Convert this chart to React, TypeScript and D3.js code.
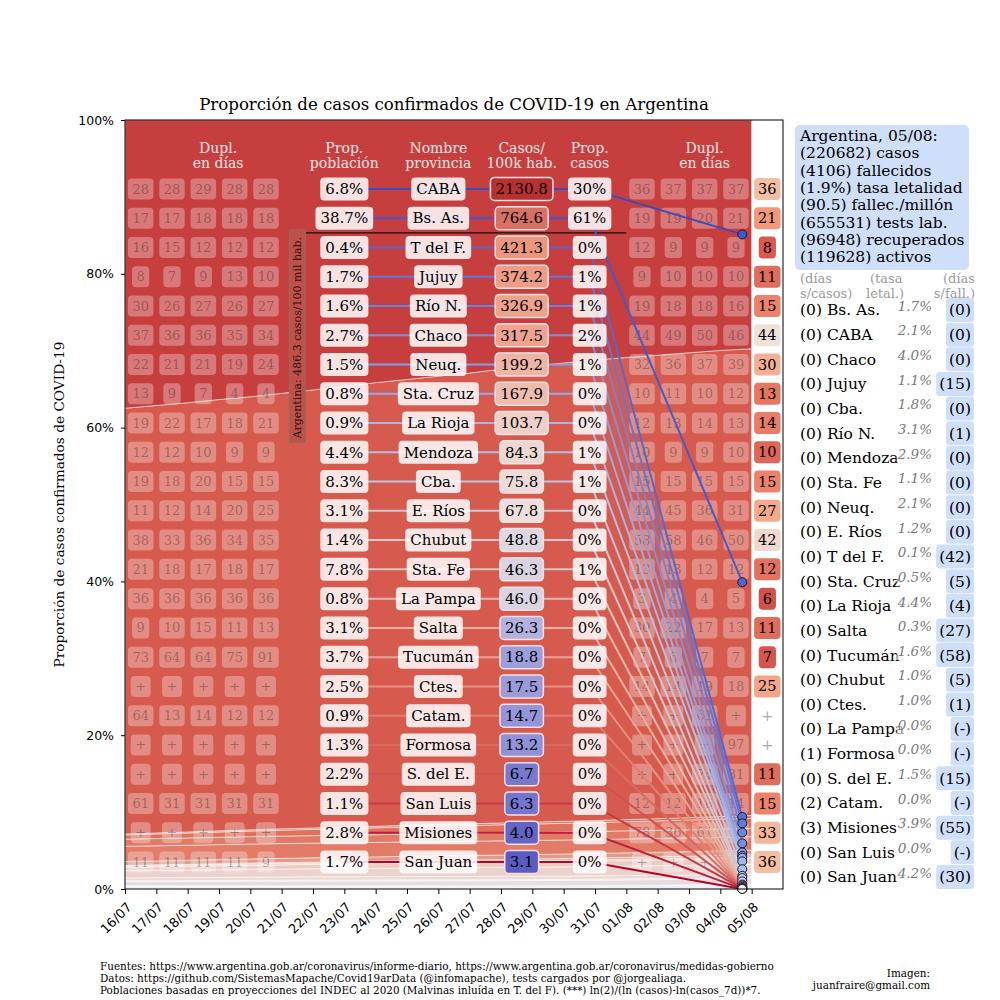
import React, { useEffect, useRef } from "react";
import * as d3 from "d3";

const dates = [
  "16/07", "17/07", "18/07", "19/07", "20/07", "21/07", "22/07", "23/07", "24/07", "25/07", "26/07",
  "27/07", "28/07", "29/07", "30/07", "31/07", "01/08", "02/08", "03/08", "04/08", "05/08",
];

// table order (sorted by cases per 100k)
const provinces = [
  "CABA", "Bs. As.", "T del F.", "Jujuy", "Río N.", "Chaco", "Neuq.", "Sta. Cruz", "La Rioja", "Mendoza",
  "Cba.", "E. Ríos", "Chubut", "Sta. Fe", "La Pampa", "Salta", "Tucumán", "Ctes.", "Catam.", "Formosa",
  "S. del E.", "San Luis", "Misiones", "San Juan",
];
const popShare = [
  "6.8%", "38.7%", "0.4%", "1.7%", "1.6%", "2.7%", "1.5%", "0.8%", "0.9%", "4.4%", "8.3%", "3.1%",
  "1.4%", "7.8%", "0.8%", "3.1%", "3.7%", "2.5%", "0.9%", "1.3%", "2.2%", "1.1%", "2.8%", "1.7%",
];
const casesPer100k = [
  2130.8, 764.6, 421.3, 374.2, 326.9, 317.5, 199.2, 167.9, 103.7, 84.3, 75.8, 67.8,
  48.8, 46.3, 46.0, 26.3, 18.8, 17.5, 14.7, 13.2, 6.7, 6.3, 4.0, 3.1,
];
const caseShare = [
  "30%", "61%", "0%", "1%", "1%", "2%", "1%", "0%", "0%", "1%", "1%", "0%",
  "0%", "1%", "0%", "0%", "0%", "0%", "0%", "0%", "0%", "0%", "0%", "0%",
];

// share of confirmed cases (%) per province, one value per date
const shares: number[][] = [
  [37.1, 36.8, 36.5, 36.1, 35.8, 35.4, 35.0, 34.6, 34.1, 33.7, 33.3, 32.9, 32.4, 32.0, 31.6, 31.2, 30.9, 30.6, 30.3, 30.0, 29.8],
  [54.8, 55.1, 55.4, 55.7, 56.0, 56.4, 56.8, 57.2, 57.6, 57.9, 58.3, 58.6, 59.0, 59.3, 59.6, 59.9, 60.1, 60.3, 60.5, 60.7, 60.8],
  [0.12, 0.13, 0.14, 0.15, 0.16, 0.17, 0.18, 0.19, 0.2, 0.21, 0.22, 0.23, 0.24, 0.25, 0.26, 0.27, 0.28, 0.3, 0.31, 0.33, 0.35],
  [0.55, 0.6, 0.64, 0.68, 0.72, 0.77, 0.81, 0.85, 0.89, 0.93, 0.97, 1.01, 1.05, 1.09, 1.12, 1.15, 1.18, 1.22, 1.25, 1.28, 1.31],
  [0.92, 0.93, 0.94, 0.95, 0.96, 0.97, 0.98, 0.99, 1.0, 1.01, 1.02, 1.03, 1.04, 1.04, 1.05, 1.05, 1.06, 1.06, 1.07, 1.07, 1.08],
  [1.96, 1.95, 1.94, 1.93, 1.92, 1.91, 1.9, 1.89, 1.88, 1.87, 1.86, 1.85, 1.84, 1.83, 1.82, 1.81, 1.8, 1.79, 1.78, 1.77, 1.76],
  [0.5, 0.51, 0.52, 0.53, 0.54, 0.55, 0.55, 0.56, 0.56, 0.57, 0.57, 0.58, 0.58, 0.59, 0.59, 0.6, 0.6, 0.6, 0.61, 0.61, 0.61],
  [0.07, 0.08, 0.09, 0.1, 0.11, 0.12, 0.13, 0.14, 0.15, 0.16, 0.17, 0.18, 0.19, 0.2, 0.21, 0.22, 0.23, 0.24, 0.25, 0.27, 0.28],
  [0.16, 0.16, 0.16, 0.17, 0.17, 0.17, 0.17, 0.17, 0.17, 0.17, 0.17, 0.18, 0.18, 0.18, 0.18, 0.18, 0.18, 0.19, 0.19, 0.19, 0.19],
  [0.45, 0.47, 0.49, 0.51, 0.53, 0.55, 0.57, 0.59, 0.6, 0.62, 0.63, 0.65, 0.66, 0.67, 0.69, 0.7, 0.71, 0.72, 0.73, 0.75, 0.76],
  [0.92, 0.94, 0.96, 0.98, 1.0, 1.02, 1.04, 1.06, 1.08, 1.1, 1.12, 1.14, 1.16, 1.18, 1.2, 1.21, 1.23, 1.25, 1.26, 1.28, 1.29],
  [0.37, 0.39, 0.4, 0.41, 0.42, 0.43, 0.43, 0.44, 0.44, 0.44, 0.44, 0.44, 0.44, 0.44, 0.44, 0.44, 0.44, 0.43, 0.43, 0.43, 0.43],
  [0.1, 0.1, 0.11, 0.11, 0.11, 0.12, 0.12, 0.12, 0.12, 0.13, 0.13, 0.13, 0.13, 0.13, 0.13, 0.14, 0.14, 0.14, 0.14, 0.14, 0.14],
  [0.55, 0.56, 0.57, 0.58, 0.59, 0.6, 0.61, 0.62, 0.63, 0.64, 0.65, 0.66, 0.67, 0.68, 0.69, 0.7, 0.71, 0.72, 0.72, 0.73, 0.74],
  [0.01, 0.01, 0.01, 0.01, 0.01, 0.01, 0.01, 0.01, 0.01, 0.01, 0.01, 0.01, 0.01, 0.01, 0.01, 0.02, 0.03, 0.04, 0.05, 0.07, 0.08],
  [0.07, 0.07, 0.08, 0.08, 0.09, 0.09, 0.1, 0.1, 0.11, 0.11, 0.12, 0.12, 0.13, 0.13, 0.14, 0.14, 0.15, 0.15, 0.16, 0.16, 0.17],
  [0.05, 0.05, 0.05, 0.05, 0.05, 0.05, 0.05, 0.05, 0.05, 0.05, 0.05, 0.05, 0.05, 0.05, 0.05, 0.06, 0.07, 0.09, 0.1, 0.12, 0.14],
  [0.11, 0.11, 0.1, 0.1, 0.1, 0.1, 0.1, 0.1, 0.1, 0.1, 0.1, 0.09, 0.09, 0.09, 0.09, 0.09, 0.09, 0.09, 0.09, 0.09, 0.09],
  [0.01, 0.01, 0.01, 0.01, 0.01, 0.01, 0.01, 0.01, 0.01, 0.01, 0.01, 0.01, 0.01, 0.01, 0.01, 0.01, 0.02, 0.02, 0.03, 0.03, 0.03],
  [0.07, 0.07, 0.07, 0.07, 0.07, 0.06, 0.06, 0.06, 0.06, 0.06, 0.06, 0.05, 0.05, 0.05, 0.05, 0.05, 0.05, 0.04, 0.04, 0.04, 0.04],
  [0.02, 0.02, 0.02, 0.02, 0.02, 0.02, 0.02, 0.02, 0.02, 0.02, 0.02, 0.02, 0.02, 0.02, 0.02, 0.02, 0.02, 0.02, 0.03, 0.03, 0.03],
  [0.01, 0.01, 0.01, 0.01, 0.01, 0.01, 0.01, 0.01, 0.01, 0.01, 0.01, 0.01, 0.01, 0.01, 0.01, 0.01, 0.01, 0.01, 0.01, 0.01, 0.01],
  [0.04, 0.04, 0.04, 0.04, 0.04, 0.04, 0.04, 0.03, 0.03, 0.03, 0.03, 0.03, 0.03, 0.03, 0.03, 0.03, 0.02, 0.02, 0.02, 0.02, 0.02],
  [0.02, 0.02, 0.02, 0.02, 0.02, 0.02, 0.02, 0.02, 0.02, 0.02, 0.01, 0.01, 0.01, 0.01, 0.01, 0.01, 0.01, 0.01, 0.01, 0.01, 0.01],
];

// doubling time in days: 16/07-20/07, 01/08-04/08, and 05/08
const duplStart = [
  ["28", "28", "29", "28", "28"], ["17", "17", "18", "18", "18"], ["16", "15", "12", "12", "12"],
  ["8", "7", "9", "13", "10"], ["30", "26", "27", "26", "27"], ["37", "36", "36", "35", "34"],
  ["22", "21", "21", "19", "24"], ["13", "9", "7", "4", "4"], ["19", "22", "17", "18", "21"],
  ["12", "12", "10", "9", "9"], ["19", "18", "20", "15", "15"], ["11", "12", "14", "20", "25"],
  ["38", "33", "36", "34", "35"], ["21", "18", "17", "18", "17"], ["36", "36", "36", "36", "36"],
  ["9", "10", "15", "11", "13"], ["73", "64", "64", "75", "91"], ["+", "+", "+", "+", "+"],
  ["64", "13", "14", "12", "12"], ["+", "+", "+", "+", "+"], ["+", "+", "+", "+", "+"],
  ["61", "31", "31", "31", "31"], ["+", "+", "+", "+", "+"], ["11", "11", "11", "11", "9"],
];
const duplEnd = [
  ["36", "37", "37", "37"], ["19", "19", "20", "21"], ["12", "9", "9", "9"], ["9", "10", "10", "10"],
  ["19", "18", "18", "16"], ["44", "49", "50", "46"], ["32", "36", "37", "39"], ["10", "11", "10", "12"],
  ["12", "13", "14", "13"], ["10", "9", "9", "10"], ["15", "15", "15", "15"], ["44", "45", "36", "31"],
  ["58", "58", "46", "50"], ["13", "13", "12", "12"], ["3", "4", "4", "5"], ["30", "22", "17", "13"],
  ["7", "6", "7", "7"], ["14", "14", "19", "18"], ["+", "+", "61", "+"], ["+", "+", "+", "97"],
  ["+", "+", "74", "31"], ["12", "12", "18", "14"], ["78", "36", "61", "33"], ["+", "+", "+", "53"],
];
const duplLast = [
  "36", "21", "8", "11", "15", "44", "30", "13", "14", "10", "15", "27",
  "42", "12", "6", "11", "7", "25", "+", "+", "11", "15", "33", "36",
];

const summaryLines = [
  "Argentina, 05/08:", "(220682) casos", "(4106) fallecidos", "(1.9%) tasa letalidad",
  "(90.5) fallec./millón", "(655531) tests lab.", "(96948) recuperados", "(119628) activos",
];

const sideNames = [
  "Bs. As.", "CABA", "Chaco", "Jujuy", "Cba.", "Río N.", "Mendoza", "Sta. Fe", "Neuq.", "E. Ríos",
  "T del F.", "Sta. Cruz", "La Rioja", "Salta", "Tucumán", "Chubut", "Ctes.", "La Pampa", "Formosa",
  "S. del E.", "Catam.", "Misiones", "San Luis", "San Juan",
];
const sideDaysCases = [0, 0, 0, 0, 0, 0, 0, 0, 0, 0, 0, 0, 0, 0, 0, 0, 0, 0, 1, 0, 2, 3, 0, 0];
const sideLethality = [
  "1.7%", "2.1%", "4.0%", "1.1%", "1.8%", "3.1%", "2.9%", "1.1%", "2.1%", "1.2%", "0.1%", "0.5%",
  "4.4%", "0.3%", "1.6%", "1.0%", "1.0%", "0.0%", "0.0%", "1.5%", "0.0%", "3.9%", "0.0%", "4.2%",
];
const sideDaysDeaths = [
  "0", "0", "0", "15", "0", "1", "0", "0", "0", "0", "42", "5",
  "4", "27", "58", "5", "1", "-", "-", "15", "-", "55", "-", "30",
];

const footerLines = [
  "Fuentes: https://www.argentina.gob.ar/coronavirus/informe-diario, https://www.argentina.gob.ar/coronavirus/medidas-gobierno",
  "Datos: https://github.com/SistemasMapache/Covid19arData (@infomapache), tests cargados por @jorgealiaga.",
  "Poblaciones basadas en proyecciones del INDEC al 2020 (Malvinas inluída en T. del F). (***) ln(2)/(ln (casos)-ln(casos_7d))*7.",
];

const SERIF = "'DejaVu Serif', serif";
const SANS = "'DejaVu Sans', sans-serif";

const coolwarm = d3.interpolateRgbBasis(["#3b4cc0", "#7b9ff9", "#dddddd", "#f49a7b", "#b40426"]);
const dotFill = d3.interpolateRgbBasis(["#3b5cd0", "#8fb0f5", "#dfe6f2", "#f2f2f2"]);

export default function App() {
  const ref = useRef<SVGSVGElement | null>(null);

  useEffect(() => {
    document.body.style.margin = "0";
    const width = 1000;
    const height = 1000;
    const margin = { top: 120, right: 217, bottom: 111, left: 125 };

    d3.select(ref.current).selectAll("*").remove();
    const svg = d3.select(ref.current).attr("width", width).attr("height", height);
    svg.append("rect").attr("width", width).attr("height", height).attr("fill", "#fff");

    const x = d3.scaleLinear().domain([0, dates.length]).range([margin.left, width - margin.right]);
    const y = d3.scaleLinear().domain([0, 1]).range([height - margin.bottom, margin.top]);

    const heatDomain = [3.1, 20, 60, 400, 2130];
    const boxHeat = d3.scaleLog<string>().domain(heatDomain)
      .range(["#5b5bc4", "#a0a0dc", "#ece4e4", "#ed9a80", "#b83030"]);
    const areaHeat = d3.scaleLog<string>().domain(heatDomain)
      .range(["#aabbe0", "#c9d3ec", "#eee0dc", "#e06e58", "#c73e3e"]);
    const duplColor = d3.scaleLinear<string>().domain([6, 15, 25, 36, 44])
      .range(["#d2504b", "#eb8269", "#f5a587", "#f5bea3", "#eee1da"]).clamp(true);

    // Stacked shares (CABA on top, San Juan at the bottom)
    const table = dates.map((_, d) => Object.fromEntries(provinces.map((p, i) => [p, shares[i][d]])));
    const series = d3.stack<any>().keys([...provinces].reverse()).offset(d3.stackOffsetExpand)(table);
    const area = d3.area<any>().x((_, i) => x(i)).y0((d) => y(d[0])).y1((d) => y(d[1]));

    svg.append("g").selectAll("path").data(series).join("path")
      .attr("d", area as any)
      .attr("fill", (s) => areaHeat(casesPer100k[provinces.indexOf(s.key)]))
      .attr("stroke", "#fff").attr("stroke-width", 0.7).attr("stroke-opacity", 0.75);

    const last = dates.length - 1;
    const col = {
      dupl: [0.5, 1.5, 2.5, 3.5, 4.5], duplHead: 2.97, arg: 5.5, pop: 7, name: 10, cases: 12.66, share: 14.83,
      duplEnd: [16.5, 17.5, 18.5, 19.5], duplEndHead: 18.5, last: 20.5, dot: 19.7,
    };
    const rowY = (i: number) => y(0.9103 - i * 0.03805);
    const dotY = provinces.map((p) => {
      const s = series.find((s) => s.key === p)!;
      return y((s[last][0] + s[last][1]) / 2);
    });

    const box = (
      g: d3.Selection<SVGGElement, unknown, null, undefined>, cx: number, cy: number, label: string,
      o: { size: number; padX: number; h: number; fill?: string; fillOpacity?: number; color?: string;
        textOpacity?: number; stroke?: string; strokeWidth?: number },
    ) => {
      const rect = g.append("rect");
      const t = g.append("text").attr("x", cx).attr("y", cy).attr("dy", "0.35em").attr("text-anchor", "middle")
        .style("font-family", SERIF).style("font-size", `${o.size}px`)
        .attr("fill", o.color ?? "#000").attr("fill-opacity", o.textOpacity ?? 1).text(label);
      if (!o.fill) { rect.remove(); return; }
      const w = (t.node() as SVGTextElement).getComputedTextLength() + 2 * o.padX;
      rect.attr("x", cx - w / 2).attr("y", cy - o.h / 2).attr("width", w).attr("height", o.h).attr("rx", 4)
        .attr("fill", o.fill).attr("fill-opacity", o.fillOpacity ?? 1);
      if (o.stroke) rect.attr("stroke", o.stroke).attr("stroke-width", o.strokeWidth ?? 1);
    };

    // Doubling-time boxes
    const duplG = svg.append("g");
    const duplStyle = { size: 13, padX: 4.5, h: 21, fill: "#fff", fillOpacity: 0.3, textOpacity: 0.3 };
    provinces.forEach((_, i) => {
      duplStart[i].forEach((v, k) => box(duplG, x(col.dupl[k]), rowY(i), v, duplStyle));
      duplEnd[i].forEach((v, k) => box(duplG, x(col.duplEnd[k]), rowY(i), v, duplStyle));
      const v = duplLast[i];
      if (v === "+") box(duplG, x(col.last), rowY(i), v, { size: 14.5, padX: 4, h: 22, color: "#aaa" });
      else box(duplG, x(col.last), rowY(i), v, { size: 14.5, padX: 4, h: 22, fill: duplColor(+v) });
    });

    // Headers
    const headers: [number, string, string][] = [
      [col.duplHead, "Dupl.", "en días"], [col.pop, "Prop.", "población"], [col.name, "Nombre", "provincia"],
      [col.cases, "Casos/", "100k hab."], [col.share, "Prop.", "casos"], [col.duplEndHead, "Dupl.", "en días"],
    ];
    const headG = svg.append("g").style("font-family", SERIF).style("font-size", "14px")
      .attr("fill", "#f7e4e4").attr("text-anchor", "middle");
    headers.forEach(([c, a, b]) => {
      headG.append("text").attr("x", x(c)).attr("y", 153).text(a);
      headG.append("text").attr("x", x(c)).attr("y", 168).text(b);
    });

    // Argentina average marker
    const sepY = (rowY(1) + rowY(2)) / 2;
    svg.append("line").attr("x1", x(col.arg) + 8).attr("x2", x(16)).attr("y1", sepY).attr("y2", sepY)
      .attr("stroke", "#111").attr("stroke-width", 1.2);
    const argG = svg.append("g");
    const argRect = argG.append("rect");
    const argText = argG.append("text")
      .attr("transform", `translate(${x(col.arg)},${sepY + 4}) rotate(-90)`)
      .attr("dy", "0.35em").attr("text-anchor", "end")
      .style("font-family", SERIF).style("font-size", "11px").attr("fill", "#2a1010")
      .text("Argentina: 486.3 casos/100 mil hab.");
    const argLen = (argText.node() as SVGTextElement).getComputedTextLength();
    argRect.attr("x", x(col.arg) - 8).attr("y", sepY - 3).attr("width", 16).attr("height", argLen + 11)
      .attr("fill", "#c0504a").attr("stroke", "#8a7060").attr("stroke-width", 1);

    // Connector lines from each row to its band at the last date
    const lineG = svg.append("g").attr("fill", "none");
    provinces.forEach((_, i) => {
      lineG.append("path")
        .attr("d", `M${x(col.pop)},${rowY(i)}L${x(col.share)},${rowY(i)}L${x(col.dot)},${dotY[i]}`)
        .attr("stroke", coolwarm(i / (provinces.length - 1))).attr("stroke-width", 2);
    });

    // Table boxes
    const tableG = svg.append("g");
    const light = { size: 15, padX: 5, h: 23, fill: "#fff", fillOpacity: 0.85 };
    provinces.forEach((p, i) => {
      const cy = rowY(i);
      box(tableG, x(col.pop), cy, popShare[i], light);
      box(tableG, x(col.name), cy, p, light);
      box(tableG, x(col.cases), cy, casesPer100k[i].toFixed(1), {
        size: 15, padX: 5, h: 23, fill: boxHeat(casesPer100k[i]), stroke: "#f6e2e2", strokeWidth: 1.5,
      });
      box(tableG, x(col.share), cy, caseShare[i], light);
    });

    // Dots
    svg.append("g").selectAll("circle").data(provinces).join("circle")
      .attr("cx", x(col.dot)).attr("cy", (_, i) => dotY[i]).attr("r", 4.5)
      .attr("fill", (_, i) => dotFill(i / (provinces.length - 1)))
      .attr("stroke", "#1a1a2a").attr("stroke-width", 1);

    // Axes
    const yAxis = svg.append("g").attr("transform", `translate(${margin.left},0)`)
      .call(d3.axisLeft(y).tickValues([0, 0.2, 0.4, 0.6, 0.8, 1]).tickFormat(d3.format(".0%")).tickSize(4).tickPadding(7));
    yAxis.select(".domain").remove();
    yAxis.selectAll("text").style("font-family", SANS).style("font-size", "12.5px").attr("fill", "#000");

    const xAxis = svg.append("g").attr("transform", `translate(0,${height - margin.bottom})`)
      .call(d3.axisBottom(x).tickValues(d3.range(dates.length)).tickFormat((i) => dates[+i]).tickSize(5));
    xAxis.select(".domain").remove();
    xAxis.selectAll("text").attr("x", 0).attr("y", 0).attr("dy", null).attr("text-anchor", "end")
      .attr("transform", "translate(7,19) rotate(-45)")
      .style("font-family", SANS).style("font-size", "13px").attr("fill", "#000");

    svg.append("rect").attr("x", margin.left).attr("y", margin.top)
      .attr("width", width - margin.left - margin.right).attr("height", height - margin.top - margin.bottom)
      .attr("fill", "none").attr("stroke", "#000").attr("stroke-width", 1);

    // Title and axis label
    svg.append("text").attr("x", (margin.left + width - margin.right) / 2).attr("y", 110)
      .attr("text-anchor", "middle").style("font-family", SERIF).style("font-size", "16.6px")
      .text("Proporción de casos confirmados de COVID-19 en Argentina");
    svg.append("text").attr("transform", `translate(59,${(y(0) + y(1)) / 2}) rotate(-90)`)
      .attr("dy", "0.35em").attr("text-anchor", "middle").style("font-family", SERIF).style("font-size", "13.7px")
      .text("Proporción de casos confirmados de COVID-19");

    // Right panel
    const side = svg.append("g").style("font-family", SERIF);
    side.append("rect").attr("x", 795).attr("y", 125).attr("width", 174).attr("height", 145).attr("rx", 5)
      .attr("fill", "#d0dff9");
    summaryLines.forEach((l, k) => {
      side.append("text").attr("x", 800).attr("y", 141 + k * 17.3).style("font-size", "15.5px").text(l);
    });
    const headSide = side.append("g").style("font-size", "13px").attr("fill", "#9a9a9a");
    headSide.append("text").attr("x", 800).attr("y", 283).text("(días");
    headSide.append("text").attr("x", 800).attr("y", 298).text("s/casos)");
    headSide.append("text").attr("x", 870).attr("y", 283).text("(tasa");
    headSide.append("text").attr("x", 866).attr("y", 298).text("letal.)");
    headSide.append("text").attr("x", 975).attr("y", 283).attr("text-anchor", "end").text("(días");
    headSide.append("text").attr("x", 975).attr("y", 298).attr("text-anchor", "end").text("s/fall.)");

    sideNames.forEach((name, j) => {
      const cy = 310 + j * 24.65;
      side.append("text").attr("x", 800).attr("y", cy).attr("dy", "0.35em").style("font-size", "15.5px")
        .text(`(${sideDaysCases[j]}) ${name}`);
      const rateRect = side.append("rect");
      const rate = side.append("text").attr("x", 932).attr("y", cy - 4).attr("dy", "0.35em")
        .attr("text-anchor", "end").style("font-size", "13.5px").style("font-style", "italic")
        .attr("fill", "#7a7a7a").text(sideLethality[j]);
      const rw = (rate.node() as SVGTextElement).getComputedTextLength();
      rateRect.attr("x", 932 - rw - 1).attr("y", cy - 11).attr("width", rw + 2).attr("height", 16)
        .attr("fill", "#fff").attr("fill-opacity", 0.6);
      const dRect = side.append("rect");
      const d = side.append("text").attr("x", 971).attr("y", cy).attr("dy", "0.35em").attr("text-anchor", "end")
        .style("font-size", "15.5px").text(`(${sideDaysDeaths[j]})`);
      const dw = (d.node() as SVGTextElement).getComputedTextLength() + 6;
      dRect.attr("x", 974 - dw).attr("y", cy - 12).attr("width", dw).attr("height", 24).attr("rx", 3)
        .attr("fill", "#d0dff9");
    });

    // Footer
    const foot = svg.append("g").style("font-family", SERIF).style("font-size", "10.4px");
    footerLines.forEach((l, k) => foot.append("text").attr("x", 100).attr("y", 970 + k * 12).text(l));
    foot.append("text").attr("x", 930).attr("y", 977).attr("text-anchor", "end").text("Imagen:");
    foot.append("text").attr("x", 930).attr("y", 989).attr("text-anchor", "end").text("juanfraire@gmail.com");
  }, []);

  return <svg ref={ref}></svg>;
}
